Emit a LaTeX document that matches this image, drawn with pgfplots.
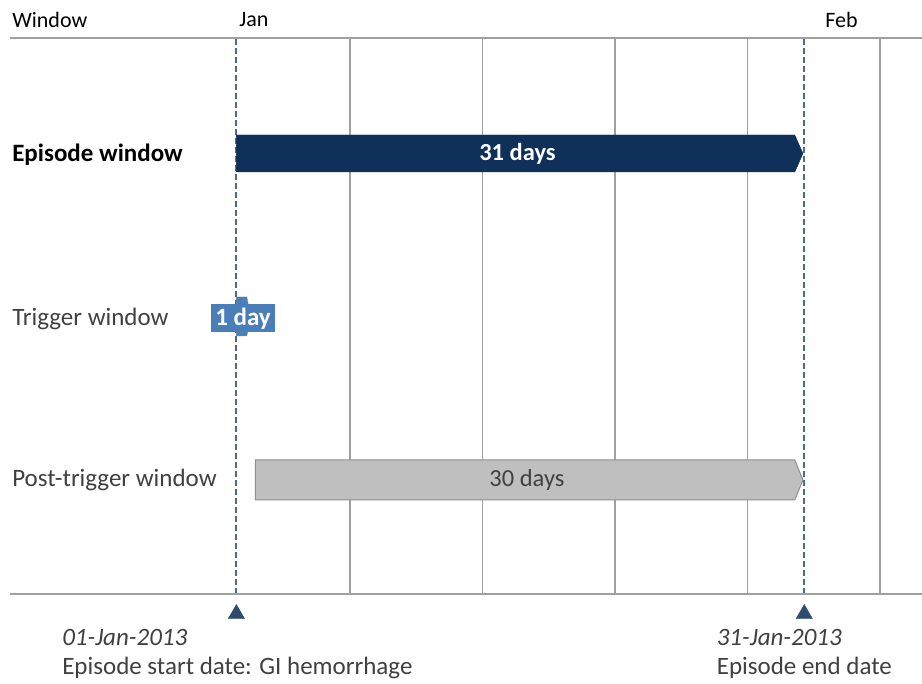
\documentclass[border=0pt]{standalone}
\usepackage{fontspec}
\setmainfont{Carlito}
\usepackage{pgfplots}
\pgfplotsset{compat=1.18}
\definecolor{navy}{HTML}{0F3058}
\definecolor{trig}{HTML}{4A7EB8}
\definecolor{postg}{HTML}{BFBFBF}
\definecolor{postb}{HTML}{8F8F8F}
\definecolor{gridc}{HTML}{A0A0A0}
\definecolor{dashc}{HTML}{4F6B8A}
\definecolor{txt}{HTML}{404040}
\definecolor{tri}{HTML}{2E4D6E}
\newcommand{\bigf}{\fontsize{25}{29}\selectfont}
\newcommand{\medf}{\fontsize{22}{26}\selectfont}
\newcommand{\barf}{\fontsize{24.5}{28}\selectfont}
\begin{document}
\begin{tikzpicture}
\begin{axis}[
  at={(0pt,0pt)}, anchor=south west,
  width=912pt, height=556pt, scale only axis,
  xmin=-11.96, xmax=36.22, ymin=0, ymax=556,
  axis line style={draw=none},
  ytick=\empty,
  xtick={6,13,20,27,34}, xticklabels={}, major tick length=0pt,
  xmajorgrids, grid style={gridc, line width=1.5pt},
  extra x ticks={0,30}, extra x tick labels={},
  extra x tick style={grid style={dashc, dash pattern=on 6pt off 3pt, line width=1.8pt}},
  clip=false,
]
\draw[gridc, line width=2.5pt] (rel axis cs:0,1) -- (rel axis cs:1,1);
\draw[gridc, line width=2.5pt] (rel axis cs:0,0) -- (rel axis cs:1,0);
% Episode window
\addplot[fill=navy, draw=navy] coordinates {(0,422)(29.5,422)(29.93,440.5)(29.5,459)(0,459)} -- cycle;
% Trigger window
\addplot[fill=trig, draw=gray] coordinates {(0,258)(0.55,258)(0.75,277.5)(0.55,297)(0,297)} -- cycle;
% Post-trigger window
\addplot[fill=postg, draw=postb, line width=1pt] coordinates {(1,94)(29.5,94)(29.93,114)(29.5,134)(1,134)} -- cycle;
% markers
\addplot[only marks, mark=triangle*, mark size=9.5pt, color=tri] coordinates {(0,-20)(30,-20)};
% bar labels
\node[text=white, font=\barf\bfseries] at (axis cs:14.85,440.5) {31 days};
\node[fill=trig, text=white, font=\bigf\bfseries, inner xsep=4pt, inner ysep=0pt, minimum height=28pt] at (axis cs:0.35,275.5) {1 day};
\node[text=txt, font=\barf] at (axis cs:15.35,114) {30 days};
% row labels
\node[anchor=west, inner sep=0pt, font=\bigf\bfseries, text=black] at (axis cs:-11.85,439) {Episode window};
\node[anchor=west, inner sep=0pt, font=\bigf, text=txt] at (axis cs:-11.85,275) {Trigger window};
\node[anchor=west, inner sep=0pt, font=\bigf, text=txt] at (axis cs:-11.85,114) {Post-trigger window};
% header
\node[anchor=west, inner sep=0pt, font=\medf, text=black] at (axis cs:-11.85,574) {Window};
\node[anchor=west, inner sep=0pt, font=\medf, text=black] at (axis cs:0.15,574) {Jan};
\node[anchor=west, inner sep=0pt, font=\medf, text=black] at (axis cs:31.1,574) {Feb};
% bottom texts
\node[anchor=west, inner sep=0pt, font=\bigf\itshape, text=txt] at (axis cs:-9.21,-43) {01-Jan-2013};
\node[anchor=west, inner sep=0pt, font=\bigf, text=txt] at (axis cs:-9.21,-74) {Episode start date: GI hemorrhage};
\node[anchor=west, inner sep=0pt, font=\bigf\itshape, text=txt] at (axis cs:25.37,-43) {31-Jan-2013};
\node[anchor=west, inner sep=0pt, font=\bigf, text=txt] at (axis cs:25.37,-74) {Episode end date};
\end{axis}
\pgfresetboundingbox
\path[use as bounding box] (-10pt,-90pt) rectangle (912pt,594pt);
\end{tikzpicture}
\end{document}
